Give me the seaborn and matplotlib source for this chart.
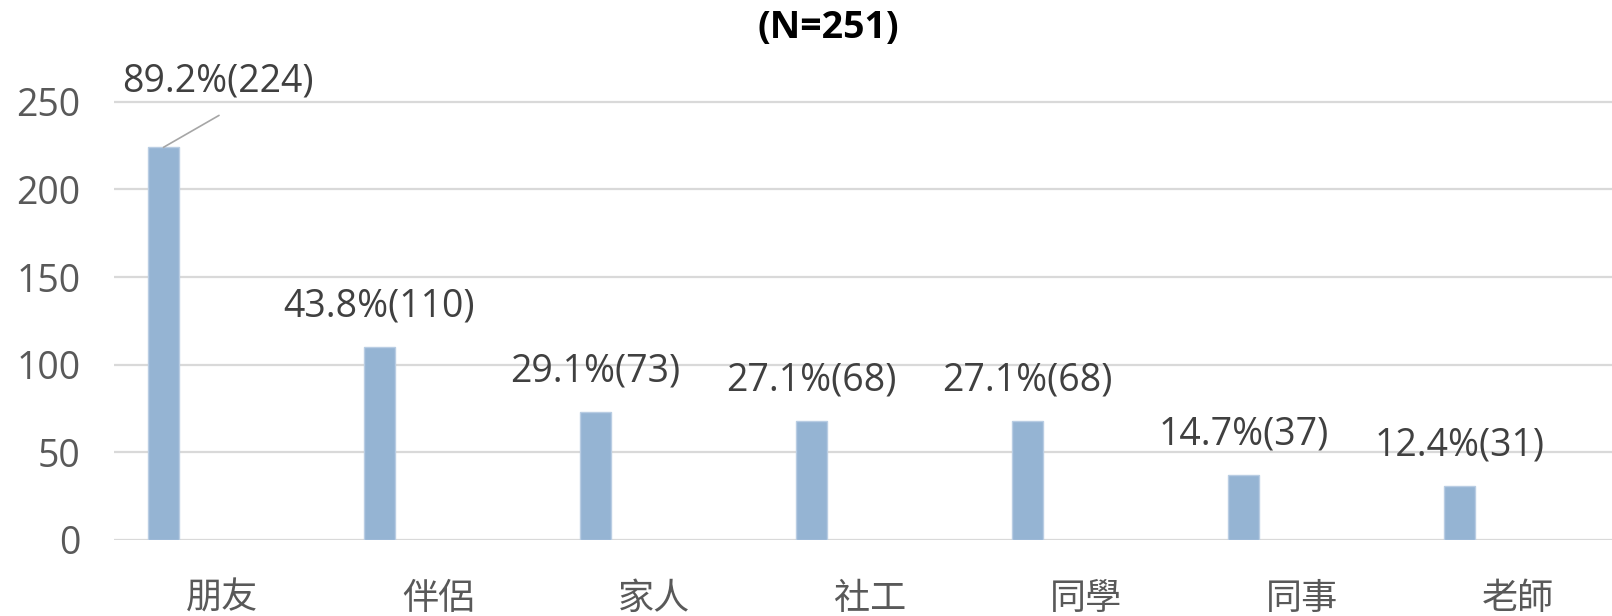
import matplotlib
matplotlib.use("Agg")
import matplotlib.pyplot as plt
import seaborn as sns
import pandas as pd
import numpy as np

categories = ["朋友", "伴侶", "家人", "社工", "同學", "同事", "老師"]
counts = [224, 110, 73, 68, 68, 37, 31]
percents = ["89.2%", "43.8%", "29.1%", "27.1%", "27.1%", "14.7%", "12.4%"]
title = "(N=251)"

sns.set_theme(style="white")
plt.rcParams["font.family"] = ["Open Sans", "Noto Sans CJK TC", "DejaVu Sans"]

df = pd.DataFrame({"cat": categories, "n": counts})

fig = plt.figure(figsize=(16.12, 6.16), dpi=100)
ax = fig.add_axes([114 / 1612, 76 / 616, 1498 / 1612, 440 / 616])

bar_w = 0.1435
shift = -0.271
sns.barplot(data=df, x="cat", y="n", color="#95B4D3", width=bar_w,
            edgecolor="#B9CDE3", linewidth=1, saturation=1, ax=ax)
for p in ax.patches:
    p.set_x(p.get_x() + shift)

ax.set_xlim(-0.5, -0.5 + 1498 / 216)
ax.set_ylim(0, 251)
ax.set_yticks([0, 50, 100, 150, 200, 250])
ax.yaxis.grid(True, color="#D9D9D9", linewidth=1.6)
ax.set_axisbelow(True)
for s in ax.spines.values():
    s.set_visible(False)
ax.set_xlabel("")
ax.set_ylabel("")
ax.tick_params(axis="y", length=0, pad=24, labelsize=27, labelcolor="#595959")
ax.tick_params(axis="x", length=0, pad=30, labelsize=26, labelcolor="#595959")

for i, (n, pc) in enumerate(zip(counts, percents)):
    label = f"{pc}({n})"
    xc = i + shift
    if i == 0:
        ax.annotate("", xy=(xc, n), xytext=(40, 23), textcoords="offset points",
                    arrowprops=dict(arrowstyle="-", color="#A6A6A6", lw=1.2,
                                    shrinkA=0, shrinkB=0))
        ax.annotate(label, xy=(xc, n), xytext=(39, 47.5), textcoords="offset points",
                    ha="center", va="center", fontsize=27, color="#404040")
    else:
        ax.annotate(label, xy=(xc, n), xytext=(0, 29), textcoords="offset points",
                    ha="center", va="center", fontsize=27, color="#404040")

fig.text(828 / 1612, 1 - 28 / 616, title, ha="center", va="center",
         fontsize=27, fontweight="bold", color="black")

fig.savefig("out.png", dpi=100)
